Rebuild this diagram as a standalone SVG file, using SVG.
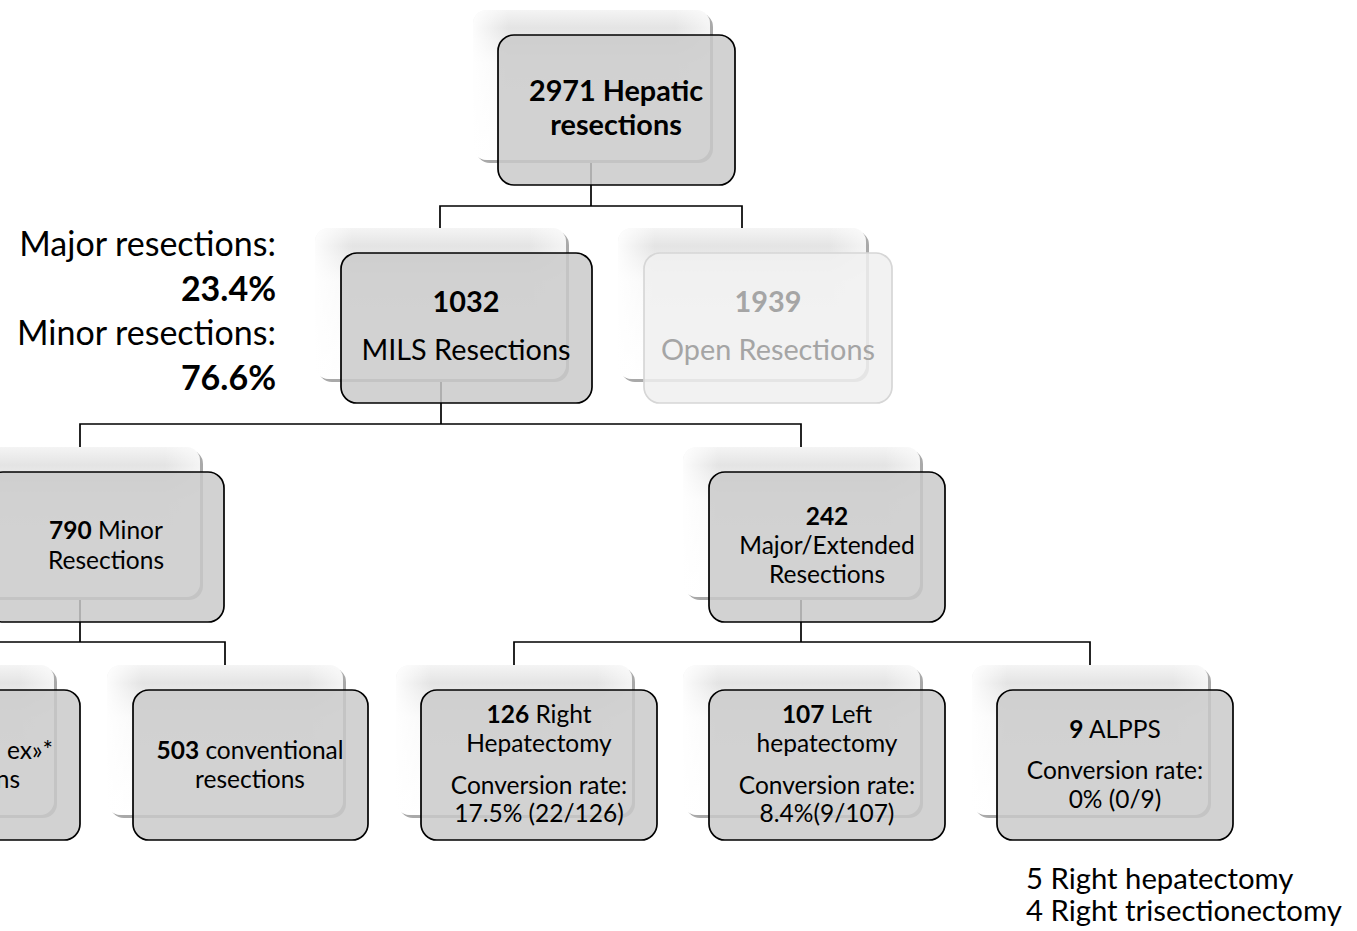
<svg xmlns="http://www.w3.org/2000/svg" width="1357" height="931" viewBox="0 0 1357 931">
<defs>
<linearGradient id="cardV" x1="0" y1="0" x2="0" y2="1">
<stop offset="0" stop-color="#f4f4f4"/>
<stop offset="0.12" stop-color="#e4e4e4"/>
<stop offset="0.35" stop-color="#f8f8f8"/>
<stop offset="1" stop-color="#ffffff"/>
</linearGradient>
<linearGradient id="cardH" x1="0" y1="0" x2="1" y2="0">
<stop offset="0" stop-color="#ffffff" stop-opacity="0.9"/>
<stop offset="0.15" stop-color="#ffffff" stop-opacity="0"/>
<stop offset="0.85" stop-color="#ffffff" stop-opacity="0"/>
<stop offset="1" stop-color="#ffffff" stop-opacity="0.6"/>
</linearGradient>
<style>
.sh{fill:#a9a9a9}
.card{fill:url(#cardV)}
.cardh{fill:url(#cardH)}
.box{fill:#c9c9c9;fill-opacity:0.84;stroke:#000;stroke-width:1.7}
.boxo{fill:#f0f0f0;fill-opacity:0.85;stroke:#d6d6d6;stroke-width:1.7}
.t{font-family:Lato,"Liberation Sans",sans-serif;fill:#000;text-anchor:middle}
.to{font-family:Lato,"Liberation Sans",sans-serif;fill:#a5a5a5;text-anchor:middle}
.b{font-weight:bold}
.n{font-size:24.5px}
.big{font-size:28.8px}
.side{font-family:Lato,"Liberation Sans",sans-serif;font-size:34px;text-anchor:end;fill:#000}
.note{font-family:Lato,"Liberation Sans",sans-serif;font-size:29.3px;fill:#000}
.conn{fill:none;stroke:#000;stroke-width:1.7}
</style>
</defs>
<rect width="1357" height="931" fill="#fff"/>
<g id="connectors">
<path class="conn" d="M591 110 V206 M440 240 V206 H742 V240"/>
<path class="conn" d="M441 320 V424 M80 460 V424 H801 V460"/>
<path class="conn" d="M80 540 V642 M-40 642 H225 V680"/>
<path class="conn" d="M801 540 V642 M514 680 V642 H1090 V680"/>
</g>
<g id="n-top">
<rect class="sh" x="476" y="13" width="237" height="150" rx="14"/>
<rect class="card" x="473" y="10" width="237" height="150" rx="14"/>
<rect class="cardh" x="473" y="10" width="237" height="150" rx="14"/>
<rect class="box" x="498" y="35" width="237" height="150" rx="16"/>
<text class="t b big" x="616" y="101">2971 Hepatic</text>
<text class="t b big" x="616" y="135">resections</text>
</g>
<g id="n-mils">
<rect class="sh" x="318" y="231" width="251" height="151" rx="14"/>
<rect class="card" x="315" y="228" width="251" height="151" rx="14"/>
<rect class="cardh" x="315" y="228" width="251" height="151" rx="14"/>
<rect class="box" x="341" y="253" width="251" height="150" rx="16"/>
<text class="t b big" x="466" y="312">1032</text>
<text class="t big" x="466" y="360">MILS Resections</text>
</g>
<g id="n-open">
<rect class="sh" x="621" y="231" width="248" height="151" rx="14"/>
<rect class="card" x="618" y="228" width="248" height="151" rx="14"/>
<rect class="cardh" x="618" y="228" width="248" height="151" rx="14"/>
<rect class="boxo" x="644" y="253" width="248" height="150" rx="16"/>
<text class="to b big" x="768" y="312">1939</text>
<text class="to big" x="768" y="360">Open Resections</text>
</g>
<g id="n-minor">
<rect class="sh" x="-34" y="450" width="237" height="150" rx="14"/>
<rect class="card" x="-37" y="447" width="237" height="150" rx="14"/>
<rect class="cardh" x="-37" y="447" width="237" height="150" rx="14"/>
<rect class="box" x="-13" y="472" width="237" height="150" rx="16"/>
<text class="t n" x="106" y="539"><tspan class="b">790</tspan> Minor</text>
<text class="t n" x="106" y="569">Resections</text>
</g>
<g id="n-major">
<rect class="sh" x="686" y="450" width="237" height="150" rx="14"/>
<rect class="card" x="683" y="447" width="237" height="150" rx="14"/>
<rect class="cardh" x="683" y="447" width="237" height="150" rx="14"/>
<rect class="box" x="709" y="472" width="236" height="150" rx="16"/>
<text class="t n b" x="827" y="525">242</text>
<text class="t n" x="827" y="554">Major/Extended</text>
<text class="t n" x="827" y="583">Resections</text>
</g>
<g id="n-complex">
<rect class="sh" x="-180" y="668" width="237" height="150" rx="14"/>
<rect class="card" x="-183" y="665" width="237" height="150" rx="14"/>
<rect class="cardh" x="-183" y="665" width="237" height="150" rx="14"/>
<rect class="box" x="-157" y="690" width="237" height="150" rx="16"/>
<text class="t n" x="53" y="759" style="text-anchor:end">ex»*</text>
<text class="t n" x="20" y="788" style="text-anchor:end">ns</text>
</g>
<g id="n-conv">
<rect class="sh" x="110" y="668" width="236" height="150" rx="14"/>
<rect class="card" x="107" y="665" width="236" height="150" rx="14"/>
<rect class="cardh" x="107" y="665" width="236" height="150" rx="14"/>
<rect class="box" x="133" y="690" width="235" height="150" rx="16"/>
<text class="t n" x="250" y="759"><tspan class="b">503</tspan> conventional</text>
<text class="t n" x="250" y="788">resections</text>
</g>
<g id="n-right">
<rect class="sh" x="399" y="668" width="236" height="150" rx="14"/>
<rect class="card" x="396" y="665" width="236" height="150" rx="14"/>
<rect class="cardh" x="396" y="665" width="236" height="150" rx="14"/>
<rect class="box" x="421" y="690" width="236" height="150" rx="16"/>
<text class="t n" x="539" y="723"><tspan class="b">126</tspan> Right</text>
<text class="t n" x="539" y="752">Hepatectomy</text>
<text class="t n" x="539" y="794">Conversion rate:</text>
<text class="t n" x="539" y="822">17.5% (22/126)</text>
</g>
<g id="n-left">
<rect class="sh" x="686" y="668" width="237" height="150" rx="14"/>
<rect class="card" x="683" y="665" width="237" height="150" rx="14"/>
<rect class="cardh" x="683" y="665" width="237" height="150" rx="14"/>
<rect class="box" x="709" y="690" width="236" height="150" rx="16"/>
<text class="t n" x="827" y="723"><tspan class="b">107</tspan> Left</text>
<text class="t n" x="827" y="752">hepatectomy</text>
<text class="t n" x="827" y="794">Conversion rate:</text>
<text class="t n" x="827" y="822">8.4%(9/107)</text>
</g>
<g id="n-alpps">
<rect class="sh" x="975" y="668" width="236" height="150" rx="14"/>
<rect class="card" x="972" y="665" width="236" height="150" rx="14"/>
<rect class="cardh" x="972" y="665" width="236" height="150" rx="14"/>
<rect class="box" x="997" y="690" width="236" height="150" rx="16"/>
<text class="t n" x="1115" y="738"><tspan class="b">9</tspan> ALPPS</text>
<text class="t n" x="1115" y="779">Conversion rate:</text>
<text class="t n" x="1115" y="808">0% (0/9)</text>
</g>
<g id="side-labels">
<text class="side" x="276" y="256">Major resections:</text>
<text class="side b" x="276" y="301">23.4%</text>
<text class="side" x="276" y="345">Minor resections:</text>
<text class="side b" x="276" y="390">76.6%</text>
</g>
<g id="alpps-note">
<text class="note" x="1026" y="889">5 Right hepatectomy</text>
<text class="note" x="1026" y="921">4 Right trisectionectomy</text>
</g>
</svg>
